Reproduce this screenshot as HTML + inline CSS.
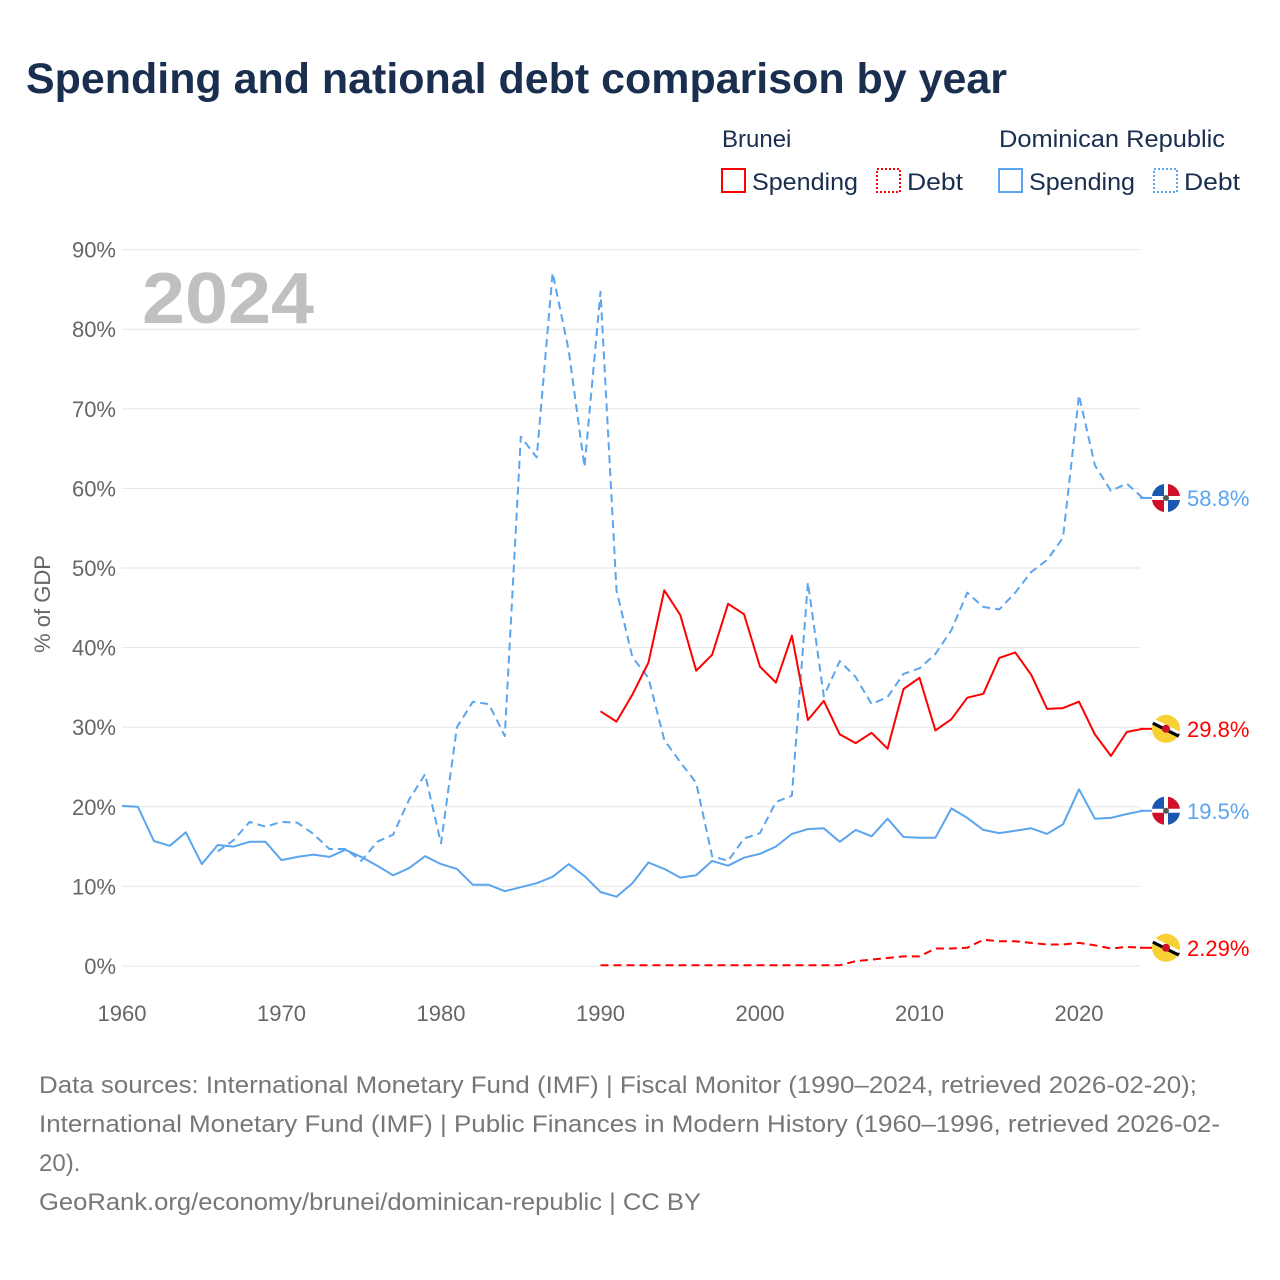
<!DOCTYPE html>
<html><head><meta charset="utf-8">
<style>
body{margin:0;background:#fff;font-family:"Liberation Sans",sans-serif;}
#wrap{position:relative;width:1280px;height:1280px;overflow:hidden;}
svg text{font-family:"Liberation Sans",sans-serif;}
</style></head>
<body>
<div id="wrap">
<svg id="chart" width="1280" height="1280">
<text x="26" y="93" font-size="43" font-weight="bold" fill="#1a2e4f" textLength="981" lengthAdjust="spacingAndGlyphs">Spending and national debt comparison by year</text>
<g>
<text x="722" y="147" font-size="24" fill="#1a2e4f">Brunei</text>
<text x="999" y="147" font-size="24" fill="#1a2e4f" textLength="226" lengthAdjust="spacingAndGlyphs">Dominican Republic</text>
<g><rect x="722" y="169" width="23" height="23" fill="none" stroke="#ff0000" stroke-width="2"/><text x="752" y="190" font-size="24" fill="#1a2e4f" textLength="106" lengthAdjust="spacingAndGlyphs">Spending</text></g>
<g><rect x="877" y="169" width="23" height="23" fill="none" stroke="#ff0000" stroke-width="2" stroke-dasharray="2,2"/><text x="907" y="190" font-size="24" fill="#1a2e4f" textLength="56" lengthAdjust="spacingAndGlyphs">Debt</text></g>
<g><rect x="999" y="169" width="23" height="23" fill="none" stroke="#5ba4ee" stroke-width="2"/><text x="1029" y="190" font-size="24" fill="#1a2e4f" textLength="106" lengthAdjust="spacingAndGlyphs">Spending</text></g>
<g><rect x="1154" y="169" width="23" height="23" fill="none" stroke="#5ba4ee" stroke-width="2" stroke-dasharray="2,2"/><text x="1184" y="190" font-size="24" fill="#1a2e4f" textLength="56" lengthAdjust="spacingAndGlyphs">Debt</text></g>
</g>
<text x="142" y="323" font-size="72" font-weight="bold" fill="#c0c0c0" textLength="172" lengthAdjust="spacingAndGlyphs">2024</text>
<text transform="translate(50,604) rotate(-90)" text-anchor="middle" font-size="22" fill="#666">% of GDP</text>
<g id="grid"></g><g id="series"></g><g id="labels"></g>
<g font-size="24" fill="#777">
<text x="39" y="1093" textLength="1158" lengthAdjust="spacingAndGlyphs">Data sources: International Monetary Fund (IMF) | Fiscal Monitor (1990–2024, retrieved 2026-02-20);</text>
<text x="39" y="1132" textLength="1181" lengthAdjust="spacingAndGlyphs">International Monetary Fund (IMF) | Public Finances in Modern History (1960–1996, retrieved 2026-02-</text>
<text x="39" y="1171">20).</text>
<text x="39" y="1210" textLength="662" lengthAdjust="spacingAndGlyphs">GeoRank.org/economy/brunei/dominican-republic | CC BY</text>
</g>
</svg>
</div>
<script>
const yTicks=[0,10,20,30,40,50,60,70,80,90];
const xTicks=[1960,1970,1980,1990,2000,2010,2020];
const drSpendStart=1960;
const drSpending=[20.1,20.0,15.7,15.1,16.8,12.8,15.2,15.0,15.6,15.6,13.3,13.7,14.0,13.7,14.6,13.7,12.6,11.4,12.3,13.8,12.8,12.2,10.2,10.2,9.4,9.9,10.4,11.2,12.8,11.3,9.3,8.7,10.4,13.0,12.2,11.1,11.4,13.2,12.6,13.6,14.1,15.0,16.6,17.2,17.3,15.6,17.1,16.3,18.5,16.2,16.1,16.1,19.8,18.6,17.1,16.7,17.0,17.3,16.6,17.8,22.2,18.5,18.6,19.1,19.5];
const drDebtStart=1966;
const drDebt=[14.4,15.8,18.1,17.5,18.1,18.0,16.6,14.7,14.7,13.2,15.6,16.5,20.9,24.1,15.4,30.0,33.2,32.9,28.9,66.5,63.9,87.1,77.4,62.7,84.7,47.2,38.8,36.2,28.4,25.6,23.0,13.8,13.2,16.0,16.7,20.6,21.4,48.2,33.9,38.3,36.3,32.9,33.8,36.7,37.4,39.2,42.2,46.9,45.1,44.8,46.9,49.5,51.0,53.8,71.7,62.9,59.7,60.6,58.8];
const bnStart=1990;
const bnSpending=[32.0,30.7,34.1,38.1,47.2,44.1,37.1,39.1,45.5,44.2,37.6,35.6,41.5,30.9,33.3,29.1,28.0,29.3,27.3,34.8,36.2,29.6,31.0,33.7,34.2,38.7,39.4,36.6,32.3,32.4,33.2,29.1,26.4,29.4,29.8];
const bnDebt=[0.1,0.1,0.1,0.1,0.1,0.1,0.1,0.1,0.1,0.1,0.1,0.1,0.1,0.1,0.1,0.1,0.6,0.8,1.0,1.2,1.2,2.2,2.2,2.3,3.3,3.1,3.1,2.9,2.7,2.7,2.9,2.6,2.2,2.4,2.29];
const endLabels=["58.8%","29.8%","19.5%","2.29%"];

const NS="http://www.w3.org/2000/svg";
const X=yr=>122+(yr-1960)*15.95;
const Y=v=>966-v*7.96;
function mk(tag,attrs,parent){const e=document.createElementNS(NS,tag);for(const k in attrs)e.setAttribute(k,attrs[k]);parent.appendChild(e);return e;}
const grid=document.getElementById('grid'),ser=document.getElementById('series'),lab=document.getElementById('labels');
yTicks.forEach(t=>{
  const l=mk('line',{x1:122,x2:1140,y1:Y(t),y2:Y(t),stroke:'#e6e6e6','stroke-width':1},grid);
  
  
  const tx=mk('text',{x:116,y:Y(t)+8,'text-anchor':'end','font-size':22,fill:'#666'},grid);
  tx.textContent=t+'%';
  
  
});
xTicks.forEach(t=>{
  const tx=mk('text',{x:X(t),y:1021,'text-anchor':'middle','font-size':22,fill:'#666'},grid);
  tx.textContent=t;
  
  
});
function line(arr,start,color,dash,name){
  const d=arr.map((v,i)=>(i?'L':'M')+X(start+i).toFixed(1)+','+Y(v).toFixed(1)).join('');
  const p=mk('path',{d:d,fill:'none',stroke:color,'stroke-width':2,'stroke-linejoin':'round'},ser);
  if(dash)p.setAttribute('stroke-dasharray','8,5');
  
  
  return p;
}
line(drSpending,drSpendStart,'#5ba4ee',false,'dr-spending-line');
line(drDebt,drDebtStart,'#5ba4ee',true,'dr-debt-line');
line(bnSpending,bnStart,'#ff0000',false,'brunei-spending-line');
line(bnDebt,bnStart,'#ff0000',true,'brunei-debt-line');
function flag(v,country,color,text){
  const cx=1166,cy=Y(v);
  const g=mk('g',{},lab);
  
  
  mk('line',{x1:1140,x2:1152,y1:cy,y2:cy,stroke:color,'stroke-width':2},g);
  if(country==='brunei'){
    mk('circle',{cx:cx,cy:cy,r:14,fill:'#f7d034'},g);
    mk('line',{x1:cx-13,y1:cy-6,x2:cx+13,y2:cy+7,stroke:'#000','stroke-width':4},g);
    mk('line',{x1:cx-13,y1:cy-9,x2:cx+13,y2:cy+4,stroke:'#fff','stroke-width':3},g);
    mk('circle',{cx:cx,cy:cy,r:4,fill:'#d0102a'},g);
  }else{
    mk('circle',{cx:cx,cy:cy,r:14,fill:'#fff'},g);
    mk('path',{d:`M${cx-14},${cy-2}A14,14 0 0 1 ${cx-2},${cy-14}V${cy-2}Z`,fill:'#1a57b0'},g);
    mk('path',{d:`M${cx+2},${cy-14}A14,14 0 0 1 ${cx+14},${cy-2}H${cx+2}Z`,fill:'#d0102a'},g);
    mk('path',{d:`M${cx-14},${cy+2}H${cx-2}V${cy+14}A14,14 0 0 1 ${cx-14},${cy+2}Z`,fill:'#d0102a'},g);
    mk('path',{d:`M${cx+2},${cy+2}H${cx+14}A14,14 0 0 1 ${cx+2},${cy+14}Z`,fill:'#1a57b0'},g);
    mk('circle',{cx:cx,cy:cy,r:3,fill:'#555'},g);
  }
  const t=mk('text',{x:1187,y:cy+8,'font-size':22,fill:color},g);
  t.textContent=text;
}
flag(drDebt[drDebt.length-1],'dr','#5ba4ee',endLabels[0]);
flag(bnSpending[bnSpending.length-1],'brunei','#ff0000',endLabels[1]);
flag(drSpending[drSpending.length-1],'dr','#5ba4ee',endLabels[2]);
flag(bnDebt[bnDebt.length-1],'brunei','#ff0000',endLabels[3]);
</script>
</body></html>
